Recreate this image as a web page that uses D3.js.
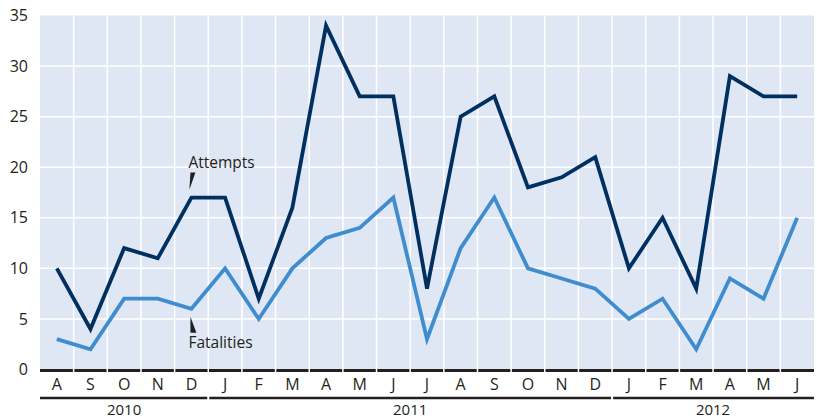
<!DOCTYPE html>
<meta charset="utf-8">
<style>
body { margin: 0; background: #fff; }
text { font-family: "Open Sans", "Noto Sans", sans-serif; fill: #231f20; }
</style>
<svg id="svg" width="817" height="420"></svg>
<script src="https://d3js.org/d3.v7.min.js"></script>
<script>
// months Aug 2010 - Jun 2012
var months = ["A","S","O","N","D","J","F","M","A","M","J","J","A","S","O","N","D","J","F","M","A","M","J"];
var years = [
  {label: "2010", from: 0, to: 5},
  {label: "2011", from: 5, to: 17},
  {label: "2012", from: 17, to: 23}
];
var attempts   = [10,4,12,11,17,17,7,16,34,27,27,8,25,27,18,19,21,10,15,8,29,27,27];
var fatalities = [3,2,7,7,6,10,5,10,13,14,17,3,12,17,10,9,8,5,7,2,9,7,15];
var yTicks = [0,5,10,15,20,25,30,35];

var svg = d3.select("svg");
var plotL = 40, plotR = 814, plotT = 15.5, plotB = 369.5;

var x = d3.scaleBand()
    .domain(d3.range(months.length))
    .range([plotL, plotR]);
var y = d3.scaleLinear().domain([0, 35]).range([plotB, plotT]);

// background
svg.append("rect")
    .attr("x", plotL).attr("y", plotT)
    .attr("width", plotR - plotL).attr("height", plotB - plotT)
    .attr("fill", "#dfe6f4");

// horizontal grid
svg.append("g").selectAll("line")
    .data(yTicks.filter(function(d) { return d > 0 && d < 35; }))
    .enter().append("line")
    .attr("x1", plotL).attr("x2", plotR)
    .attr("y1", function(d) { return y(d); })
    .attr("y2", function(d) { return y(d); })
    .attr("stroke", "#fff").attr("stroke-width", 1.5);

// x axis line
svg.append("line")
    .attr("x1", plotL).attr("x2", plotR)
    .attr("y1", plotB + 1).attr("y2", plotB + 1)
    .attr("stroke", "#231f20").attr("stroke-width", 3);

// vertical grid at month boundaries
svg.append("g").selectAll("line")
    .data(d3.range(1, months.length))
    .enter().append("line")
    .attr("x1", function(d) { return x(d); })
    .attr("x2", function(d) { return x(d); })
    .attr("y1", plotT).attr("y2", plotB + 3)
    .attr("stroke", "#fff").attr("stroke-width", 1.5);

// y tick labels
svg.append("g").selectAll("text")
    .data(yTicks)
    .enter().append("text")
    .attr("x", 28)
    .attr("y", function(d) { return y(d); })
    .attr("dy", "0.35em")
    .attr("text-anchor", "end")
    .attr("font-size", 16)
    .text(function(d) { return d; });

// month labels
svg.append("g").selectAll("text")
    .data(months)
    .enter().append("text")
    .attr("x", function(d, i) { return x(i) + x.bandwidth() / 2; })
    .attr("y", 390)
    .attr("text-anchor", "middle")
    .attr("font-size", 16)
    .text(function(d) { return d; });

// year brackets
var yr = svg.append("g").selectAll("g").data(years).enter().append("g");
yr.append("line")
    .attr("x1", function(d) { return x(d.from) + (d.from ? 1 : 0); })
    .attr("x2", function(d) { return (d.to < months.length ? x(d.to) - 1 : plotR); })
    .attr("y1", 398).attr("y2", 398)
    .attr("stroke", "#231f20").attr("stroke-width", 2.5);
yr.append("text")
    .attr("x", function(d) { return ((d.to < months.length ? x(d.to) : plotR) + x(d.from)) / 2; })
    .attr("y", 415)
    .attr("text-anchor", "middle")
    .attr("font-size", 15)
    .text(function(d) { return d.label; });

// lines
var line = d3.line()
    .x(function(d, i) { return x(i) + x.bandwidth() / 2; })
    .y(function(d) { return y(d); });

svg.append("path").datum(fatalities)
    .attr("d", line)
    .attr("fill", "none")
    .attr("stroke", "#3f8dcf")
    .attr("stroke-width", 3.8)
    .attr("stroke-linejoin", "miter");

svg.append("path").datum(attempts)
    .attr("d", line)
    .attr("fill", "none")
    .attr("stroke", "#00305f")
    .attr("stroke-width", 3.8)
    .attr("stroke-linejoin", "miter");

// annotations
var ax = x(4) + x.bandwidth() / 2;
svg.append("path")
    .attr("d", "M" + (ax - 2) + "," + (y(17) - 8) + "L" + (ax + 4) + "," + (y(17) - 25) + "L" + (ax - 1) + "," + (y(17) - 25) + "Z")
    .attr("fill", "#231f20");
svg.append("text")
    .attr("x", ax - 3).attr("y", 168)
    .attr("font-size", 15.5)
    .text("Attempts");

svg.append("path")
    .attr("d", "M" + (ax - 1) + "," + (y(6) + 8) + "L" + (ax + 5) + "," + (y(6) + 24) + "L" + (ax - 1) + "," + (y(6) + 24) + "Z")
    .attr("fill", "#231f20");
svg.append("text")
    .attr("x", ax - 3).attr("y", 348)
    .attr("font-size", 15.5)
    .text("Fatalities");
</script>
